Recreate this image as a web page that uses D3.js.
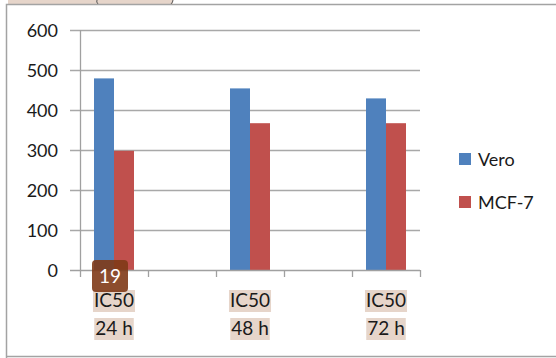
<!DOCTYPE html>
<html>
<head>
<meta charset="utf-8">
<script src="https://cdn.jsdelivr.net/npm/d3@7"></script>
<style>
  html, body { margin: 0; padding: 0; background: #fff; }
  svg { display: block; }
  text { font-family: Lato, "Open Sans", "DejaVu Sans", sans-serif; }
</style>
</head>
<body>
<svg id="chart" width="556" height="358"></svg>
<script>
// Categories (two unlabeled spacer slots between the time points)
const categories = ["IC50|24 h", "", "IC50|48 h", "", "IC50|72 h"];
const seriesNames = ["Vero", "MCF-7"];
const veroValues = [479, null, 454, null, 429];
const mcf7Values = [298, null, 367, null, 367];
const yTicks = [0, 100, 200, 300, 400, 500, 600];
const badgeText = "19";

const colors = { "Vero": "#4f81bd", "MCF-7": "#c0504d" };

const svg = d3.select("#chart");
const W = 556, H = 358;

// Outer frame and the highlighted strip above it
svg.append("rect").attr("x", 8).attr("y", -12).attr("width", 165).attr("height", 16)
  .attr("fill", "#e6d5ca");
svg.append("path").attr("d", "M97,0 q-1,2 1,4 M173,0 q0,2 -2,4").attr("fill", "none")
  .attr("stroke", "#555").attr("stroke-width", 1);
svg.append("path").attr("d", `M6.5,${H} V4.5 H${W}`).attr("fill", "none")
  .attr("stroke", "#a3a3a3").attr("stroke-width", 1.5);
svg.append("line").attr("x1", 6).attr("x2", W).attr("y1", 356.5).attr("y2", 356.5)
  .attr("stroke", "#a3a3a3").attr("stroke-width", 1.5);

// Scales
const x = d3.scaleBand().domain(d3.range(categories.length)).range([80, 420]).paddingInner(0).paddingOuter(0);
const xSub = d3.scaleBand().domain(seriesNames).range([0, x.bandwidth()]).paddingInner(0).paddingOuter(0.7);
const y = d3.scaleLinear().domain([0, 600]).range([270, 30]);

// Gridlines and y axis labels
svg.append("g").selectAll("line").data(yTicks.filter(d => d > 0)).join("line")
  .attr("x1", 70).attr("x2", 420)
  .attr("y1", d => y(d) + 0.5).attr("y2", d => y(d) + 0.5)
  .attr("stroke", "#a8a8a8").attr("stroke-width", 1.3);

svg.append("g").selectAll("text").data(yTicks).join("text")
  .attr("x", 58).attr("y", d => y(d))
  .attr("text-anchor", "end").attr("dominant-baseline", "central")
  .attr("font-size", 18).attr("fill", "#1a1a1a")
  .text(d => d);

// Bars
const series = [
  { name: "Vero", values: veroValues },
  { name: "MCF-7", values: mcf7Values }
];
const bars = [];
series.forEach(s => s.values.forEach((v, i) => { if (v != null) bars.push({ s: s.name, i, v }); }));
svg.append("g").selectAll("rect").data(bars).join("rect")
  .attr("x", d => x(d.i) + xSub(d.s))
  .attr("y", d => y(d.v))
  .attr("width", xSub.bandwidth())
  .attr("height", d => y(0) - y(d.v))
  .attr("fill", d => colors[d.s]);

// Axis lines and x ticks
svg.append("line").attr("x1", 80.5).attr("x2", 80.5).attr("y1", 30).attr("y2", 270)
  .attr("stroke", "#a0a0a0").attr("stroke-width", 1.3);
svg.append("line").attr("x1", 70).attr("x2", 420).attr("y1", 270.5).attr("y2", 270.5)
  .attr("stroke", "#a0a0a0").attr("stroke-width", 1.3);
const xTickPos = d3.range(categories.length + 1).map(i => i < categories.length ? x(i) : x(categories.length - 1) + x.bandwidth());
svg.append("g").selectAll("line").data(xTickPos).join("line")
  .attr("x1", d => d + 0.5).attr("x2", d => d + 0.5).attr("y1", 270).attr("y2", 277)
  .attr("stroke", "#a0a0a0").attr("stroke-width", 1.3);

// Category labels, each line on a highlighted background
const labelG = svg.append("g");
categories.forEach((c, i) => {
  if (!c) return;
  const cx = x(i) + x.bandwidth() / 2;
  c.split("|").forEach((line, k) => {
    const baseline = 307 + k * 28;
    const t = labelG.append("text").attr("x", cx).attr("y", baseline)
      .attr("text-anchor", "middle").attr("font-size", 19).attr("fill", "#1a1a1a").text(line);
    const bb = t.node().getBBox();
    labelG.insert("rect", "text")
      .attr("x", bb.x - 1).attr("y", baseline - 17)
      .attr("width", bb.width + 2).attr("height", 22)
      .attr("fill", "#e6d5ca");
  });
});

// Badge over the first category
const badgeCx = x(0) + 30;
svg.append("rect").attr("x", badgeCx - 18).attr("y", 260).attr("width", 36).attr("height", 32)
  .attr("rx", 4).attr("fill", "#7f3a17").attr("fill-opacity", 0.9);
svg.append("text").attr("x", badgeCx).attr("y", 283).attr("text-anchor", "middle")
  .attr("font-size", 19).attr("fill", "#fff").text(badgeText);

// Legend
const legend = svg.append("g");
seriesNames.forEach((n, k) => {
  const yy = 153 + k * 43;
  legend.append("rect").attr("x", 459).attr("y", yy).attr("width", 12).attr("height", 12).attr("fill", colors[n]);
  legend.append("text").attr("x", 478).attr("y", yy + 13).attr("font-size", 18).attr("fill", "#1a1a1a").text(n);
});
</script>
</body>
</html>
